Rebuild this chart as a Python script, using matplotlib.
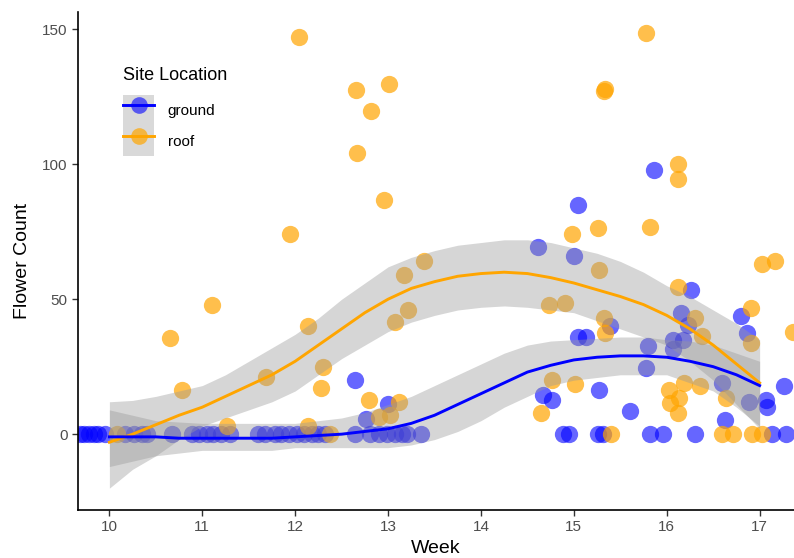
import numpy as np
import matplotlib
matplotlib.use("Agg")
import matplotlib.pyplot as plt
from matplotlib.lines import Line2D
from matplotlib.patches import Patch
from matplotlib.legend_handler import HandlerTuple

plt.rcParams['font.family'] = ['Liberation Sans', 'DejaVu Sans']

# scatter data
ground_week = [9.68, 9.73, 9.78, 9.83, 9.88, 9.95, 10.17, 10.26, 10.35, 10.41, 10.67, 10.89,
               10.97, 11.05, 11.12, 11.2, 11.3, 11.6, 11.68, 11.78, 11.85, 11.93, 12.02, 12.1,
               12.18, 12.25, 12.32, 12.64, 12.81, 12.9, 12.99, 13.07, 13.15, 13.2, 13.35,
               12.64, 13.0, 12.76,
               14.61, 15.0, 15.04, 15.86, 16.26, 15.39, 15.04, 15.13, 15.8, 15.78, 15.27, 14.67,
               14.76, 15.6, 14.88, 14.95, 15.26, 15.31, 15.82, 15.96, 16.3, 17.13, 17.28, 16.8,
               16.86, 16.15, 16.23, 16.07, 16.17, 16.07, 16.6, 16.89, 17.07, 17.08, 17.26, 16.63]
ground_count = [0] * 35 + [20, 11, 5.6,
                69.3, 66, 85, 98, 53.3, 40, 36, 36, 32.6, 24.4, 16.3, 14.4,
                12.6, 8.5, 0, 0, 0, 0, 0, 0, 0, 0, 0, 43.7,
                37.4, 45, 40.4, 34.8, 34.8, 31.5, 19, 11.8, 12.6, 10, 18, 5.2]

roof_week = [10.08, 10.65, 10.78, 11.1, 11.27, 11.69, 11.94, 12.04, 12.14, 12.14, 12.28, 12.3,
             12.38, 12.66, 12.67, 12.79, 12.82, 12.9, 12.96, 13.01, 13.02, 13.08, 13.12, 13.17,
             13.21, 13.39,
             14.65, 14.73, 14.77, 14.91, 14.98, 15.01, 15.26, 15.27, 15.32, 15.34, 15.32, 15.33,
             15.4, 15.78, 15.82, 16.12, 16.12, 16.12, 16.3, 16.38, 16.91, 16.91, 16.19, 16.36,
             16.02, 16.13, 16.04, 16.12, 16.64, 16.6, 16.71, 16.92, 17.03, 17.03, 17.17, 17.36]
roof_count = [0, 35.5, 16.3, 48, 3, 21, 74, 147, 40, 3, 17, 25,
              0, 127.4, 104, 12.6, 119.6, 6.3, 86.7, 129.6, 7, 41.5, 12, 59,
              46, 64,
              8, 48, 20, 48.5, 74, 18.5, 76.3, 61, 127, 128, 43, 37.4,
              0, 148.5, 76.7, 100, 94.4, 54.4, 43, 36.3, 33.7, 46.7, 19, 17.8,
              16.3, 13.3, 11.5, 7.8, 13.3, 0, 0, 0, 0, 63, 64, 38]

# smoothed fits and confidence bands, read at quarter-week steps
fit_week = [10, 10.25, 10.5, 10.75, 11, 11.25, 11.5, 11.75, 12, 12.25, 12.5, 12.75, 13, 13.25,
            13.5, 13.75, 14, 14.25, 14.5, 14.75, 15, 15.25, 15.5, 15.75, 16, 16.25, 16.5, 16.75, 17]
roof_fit = [-3, 0, 3.5, 7, 10, 14, 18, 22, 27, 33, 39, 45, 50, 54, 56.5, 58.5, 59.5, 60, 59.5,
            58, 56, 53.5, 51, 48, 44, 39, 33, 26, 19]
roof_hi = [12, 12.5, 14, 16, 18, 22, 27, 32, 37, 43, 50, 56, 62, 65.5, 68, 70, 71, 72, 72,
           71, 69, 67, 64, 60, 55, 51, 46, 41, 35]
roof_lo = [-20, -13, -8, -2, 3, 6, 9, 12, 16, 22, 28, 33, 38, 41.5, 44, 46, 47, 47.5, 47,
           46, 45, 42, 39, 36, 33, 27, 20, 11, 2]
ground_fit = [-1, -1, -1, -1.5, -1.5, -1.5, -1.5, -1.5, -1, -0.5, 0, 1, 2, 4, 7, 11, 15, 19, 23,
              25.5, 27.5, 28.5, 29, 29, 28.5, 27, 25, 22, 18]
ground_hi = [9, 7, 5, 4.5, 4, 4, 4, 4, 4, 5, 6, 8, 11, 14, 18, 22, 26, 30, 33,
             34.5, 35, 35.5, 36, 36, 35, 34.5, 33, 30, 27]
ground_lo = [-12, -10, -8, -7, -6, -6, -6, -6, -5, -5, -5, -5, -5, -4, -2, 1, 5, 10, 14,
             18, 20, 21, 22, 22, 22, 19, 16, 10, 3]

blue = '#0000ff'
orange = '#ffa500'

fig = plt.figure(figsize=(7.94, 5.58), dpi=100)
ax = fig.add_axes([0.098, 0.086, 0.902, 0.892])

ax.scatter(ground_week, ground_count, s=155, color=blue, alpha=0.6, linewidths=0, zorder=2)
ax.scatter(roof_week, roof_count, s=155, color=orange, alpha=0.7, linewidths=0, zorder=2)

ax.fill_between(fit_week, roof_lo, roof_hi, color='#999999', alpha=0.4, linewidth=0, zorder=3)
ax.fill_between(fit_week, ground_lo, ground_hi, color='#999999', alpha=0.4, linewidth=0, zorder=3)
ax.plot(fit_week, roof_fit, color=orange, lw=2.1, zorder=4)
ax.plot(fit_week, ground_fit, color=blue, lw=2.1, zorder=4)

ax.set_xlim(9.66, 17.37)
ax.set_ylim(-28.1, 156.3)
ax.set_xticks(range(10, 18))
ax.set_yticks([0, 50, 100, 150])
ax.set_xlabel('Week', fontsize=14, labelpad=4)
ax.set_ylabel('Flower Count', fontsize=14, labelpad=8)
ax.tick_params(colors='#333333', labelcolor='#4d4d4d', labelsize=11, length=4, width=1)
for side in ['top', 'right']:
    ax.spines[side].set_visible(False)
for side in ['left', 'bottom']:
    ax.spines[side].set_linewidth(1.2)

key_bg = Patch(facecolor='#d9d9d9', edgecolor='none')
h_ground = Line2D([], [], color=blue, lw=2.1, marker='o', markersize=12,
                  markerfacecolor=(0, 0, 1, 0.6), markeredgewidth=0)
h_roof = Line2D([], [], color=orange, lw=2.1, marker='o', markersize=12,
                markerfacecolor=(1, 0.65, 0, 0.7), markeredgewidth=0)
leg = ax.legend([(key_bg, h_ground), (key_bg, h_roof)], ['ground', 'roof'],
                handler_map={tuple: HandlerTuple(ndivide=1, pad=0)},
                title='Site Location', title_fontsize=13, fontsize=11,
                loc='upper left', bbox_to_anchor=(0.053, 0.905), frameon=False,
                borderpad=0, handlelength=2.0, handleheight=2.7, labelspacing=0,
                handletextpad=0.9, alignment='left')
# gap between the legend title and the keys
leg._legend_box.sep = 8

fig.savefig('out.png', dpi=100)
